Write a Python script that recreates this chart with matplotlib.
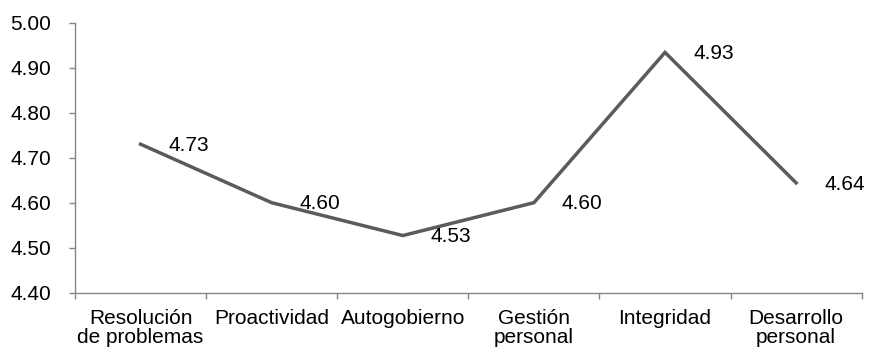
import matplotlib
matplotlib.use("Agg")
import matplotlib.pyplot as plt
import numpy as np

categories = ["Resolución\nde problemas", "Proactividad", "Autogobierno",
              "Gestión\npersonal", "Integridad", "Desarrollo\npersonal"]
values = [4.73, 4.60, 4.527, 4.60, 4.934, 4.644]
value_labels = ["4.73", "4.60", "4.53", "4.60", "4.93", "4.64"]
yticks = [4.40, 4.50, 4.60, 4.70, 4.80, 4.90, 5.00]

plt.rcParams['font.family'] = ['Liberation Sans', 'DejaVu Sans']

fig = plt.figure(figsize=(8.69, 3.52), dpi=100)
ax = fig.add_axes([75/869, 1-292.7/352, (861.7-75)/869, (292.7-22.7)/352])

x = np.arange(len(categories))
ax.plot(x, values, color='#5b5b5b', lw=2.5, solid_joinstyle='miter')

for xi, v, lab in zip(x, values, value_labels):
    ax.annotate(lab, (xi, v), xytext=(28, -1.2), textcoords='offset pixels',
                ha='left', va='center', fontsize=15, color='black')

ax.set_xlim(-0.5, len(categories) - 0.5)
ax.set_ylim(4.40, 5.00)
ax.set_yticks(yticks)
ax.set_yticklabels([f"{t:.2f}" for t in yticks], fontsize=15)

ax.set_xticks(x)
ax.set_xticklabels(categories, fontsize=15, linespacing=1.0)
ax.set_xticks(np.arange(len(categories) + 1) - 0.5, minor=True)
ax.tick_params(axis='x', which='major', length=0, pad=12)
ax.tick_params(axis='x', which='minor', length=4, width=1, color='#868686', direction='out')
ax.tick_params(axis='y', length=4, width=1, color='#868686', direction='out', pad=13)

for s in ['top', 'right']:
    ax.spines[s].set_visible(False)
for s in ['left', 'bottom']:
    ax.spines[s].set_color('#868686')
    ax.spines[s].set_linewidth(1)

fig.savefig("out.png", dpi=100)
